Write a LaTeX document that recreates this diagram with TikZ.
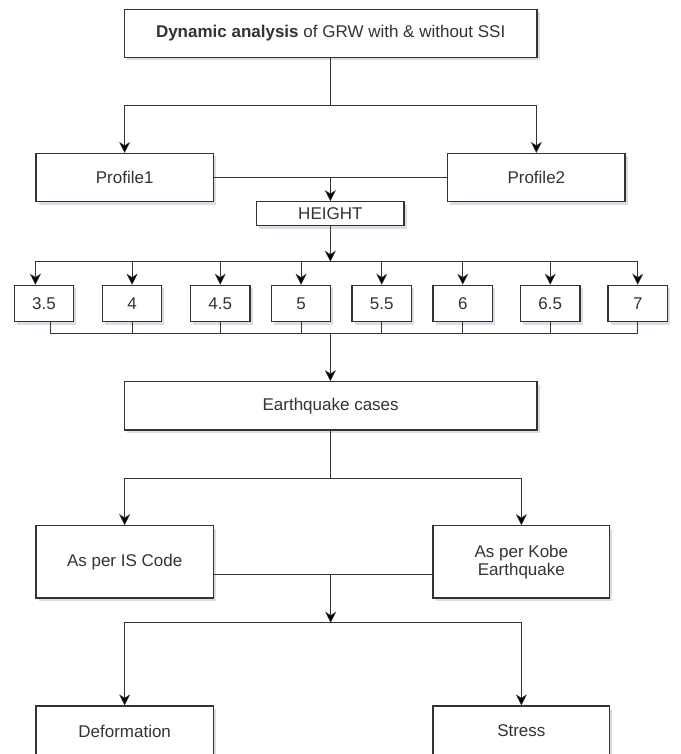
\documentclass[tikz,border=0pt]{standalone}
\usepackage{fontspec}
\setmainfont{Liberation Sans}
\usetikzlibrary{arrows.meta,shadows,calc}
\definecolor{lncol}{HTML}{333333}
\definecolor{txcol}{HTML}{333333}
\definecolor{shcol}{HTML}{DCDCE8}
\begin{document}
\begin{tikzpicture}[x=1pt,y=-1pt,
  box/.style={draw=lncol, line width=1.2pt, fill=white, text=txcol, align=center,
    inner sep=0pt, font=\fontsize{17}{18.5}\selectfont,
    drop shadow={shadow xshift=2.5pt, shadow yshift=-3pt, fill=shcol, opacity=1, draw=none}},
  wire/.style={draw=lncol, line width=1pt},
  arr/.style={draw=lncol, line width=1pt,
    -{Stealth[length=11pt,width=11pt,inset=3.5pt,fill=black,line width=0.5pt]}},
  numbox/.style={box, minimum width=59.5pt, minimum height=36.4pt}]
\fill[white] (0,0) rectangle (680,754);
\useasboundingbox (0,0) rectangle (680,754);

% nodes
\node[box, minimum width=412.7pt, minimum height=48pt] (top) at (330.65,33.3)
  {\textbf{Dynamic analysis} of GRW with \& without SSI};
\node[box, minimum width=177.3pt, minimum height=48.2pt] (P1) at (124.65,177.6) {Profile1};
\node[box, minimum width=177.3pt, minimum height=48.2pt] (P2) at (536.35,177.6) {Profile2};
\node[box, minimum width=147.3pt, minimum height=24pt] (H) at (330.35,213.7) {HEIGHT};

\node[numbox] (n1) at (44.05,303.5) {3.5};
\node[numbox] (n2) at (132.05,303.5) {4};
\node[numbox] (n3) at (220.25,303.5) {4.5};
\node[numbox] (n4) at (301.05,303.5) {5};
\node[numbox] (n5) at (381.75,303.5) {5.5};
\node[numbox] (n6) at (462.75,303.5) {6};
\node[numbox] (n7) at (550.25,303.5) {6.5};
\node[numbox] (n8) at (637.75,303.5) {7};

\node[box, minimum width=412.7pt, minimum height=48.3pt] (EQ) at (330.65,405.85) {Earthquake cases};
\node[box, minimum width=177.3pt, minimum height=72.3pt] (IS) at (124.65,561.85) {As per IS Code};
\node[box, minimum width=176.7pt, minimum height=72.3pt] (KB) at (521.35,561.85) {As per Kobe\\Earthquake};
\node[box, minimum width=177.3pt, minimum height=50pt] (DF) at (124.65,731) {Deformation};
\node[box, minimum width=176.7pt, minimum height=50pt] (ST) at (521.35,731) {Stress};

% helper levels
\coordinate (y1) at (0,106);
\coordinate (y2) at (0,261.7);
\coordinate (y3) at (0,333.7);
\coordinate (y4) at (0,478);
\coordinate (y5) at (0,622.7);

% top -> profiles
\coordinate (b1) at (top.south |- y1);
\draw[wire] (top.south) -- (b1);
\draw[arr] (b1) -| (P1.north);
\draw[arr] (b1) -| (P2.north);

% profiles -> height
\draw[wire] (P1.east) -- (P2.west);
\draw[arr] (P1.east -| H.north) -- (H.north);

% height -> numbers
\coordinate (b2) at (H.south |- y2);
\draw[arr] (H.south) -- (b2);
\draw[arr] (b2) -| ($(n1.north west)+(21.7,0)$);
\foreach \k in {2,...,8}{\draw[arr] (b2) -| (n\k.north);}

% numbers -> earthquake cases
\coordinate (b3) at (H.south |- y3);
\draw[wire] ($(n1.south west)+(36.7,0)$) |- (b3);
\foreach \k in {2,...,8}{\draw[wire] (n\k.south) |- (b3);}
\draw[arr] (b3) -- (b3 |- EQ.north);

% earthquake cases -> IS / Kobe
\coordinate (b4) at (EQ.south |- y4);
\draw[wire] (EQ.south) -- (b4);
\draw[arr] (b4) -| (IS.north);
\draw[arr] (b4) -| (KB.north);

% IS / Kobe -> results
\coordinate (m) at ($(IS.east)+(0,12.2)$);
\draw[wire] (m) -- (m -| KB.west);
\coordinate (b5) at (EQ.south |- y5);
\draw[arr] (m -| b5) -- (b5);
\draw[arr] (b5) -| (DF.north);
\draw[arr] (b5) -| (ST.north);
\end{tikzpicture}
\end{document}
